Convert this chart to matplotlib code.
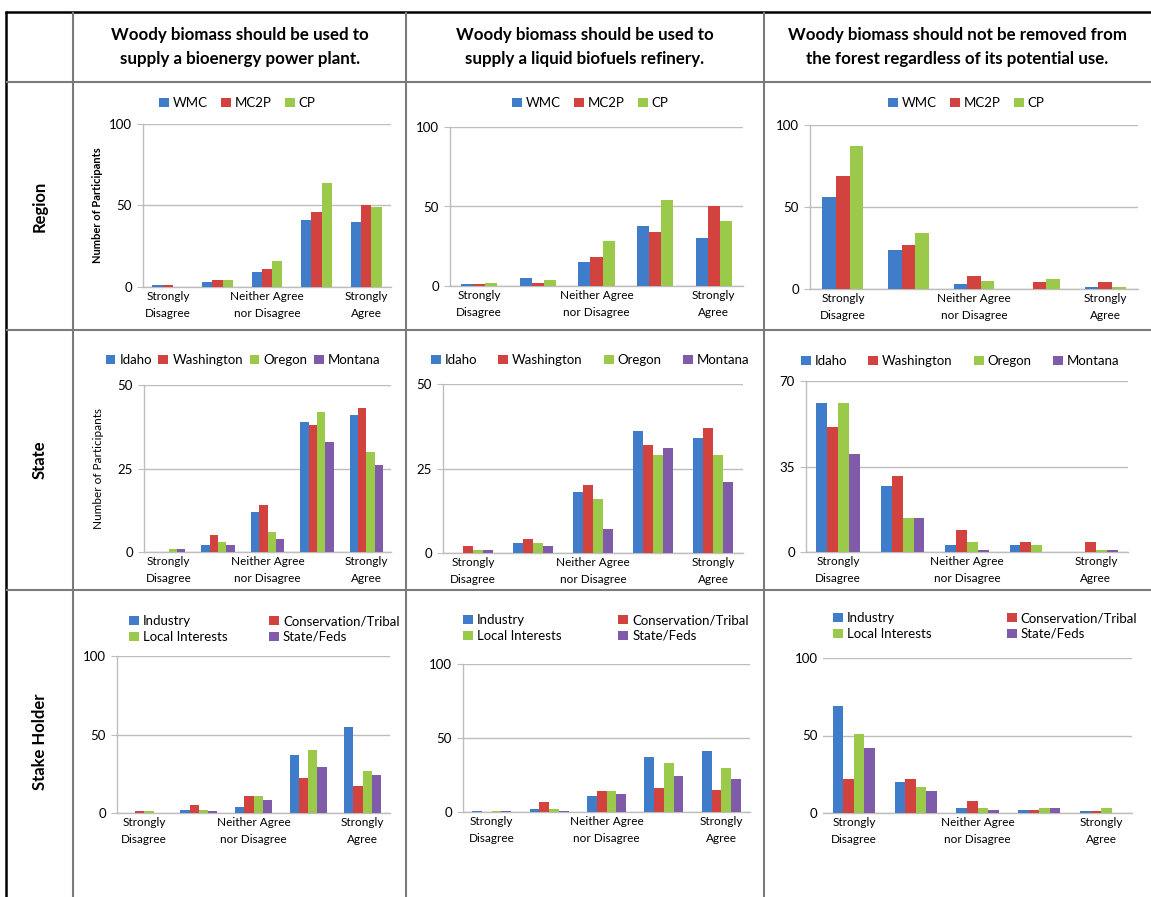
import matplotlib
matplotlib.use("Agg")
import matplotlib.pyplot as plt
from matplotlib.lines import Line2D
import numpy as np

plt.rcParams['font.family'] = ['Lato', 'DejaVu Sans']

W, H = 1151, 897

# ---- data -------------------------------------------------------------
categories = ["SD", "D", "N", "A", "SA"]
tick_positions = [0, 2, 4]
tick_labels = ["Strongly\nDisagree", "Neither Agree\nnor Disagree", "Strongly\nAgree"]

col_titles = [
    "Woody biomass should be used to\nsupply a bioenergy power plant.",
    "Woody biomass should be used to\nsupply a liquid biofuels refinery.",
    "Woody biomass should not be removed from\nthe forest regardless of its potential use.",
]
row_titles = ["Region", "State", "Stake Holder"]

region_names = ["WMC", "MC2P", "CP"]
region_power = [[1, 3, 9, 41, 40], [1, 4, 11, 46, 50], [0, 4, 16, 64, 49]]
region_fuels = [[1, 5, 15, 38, 30], [1, 2, 18, 34, 50], [2, 4, 28, 54, 41]]
region_keep = [[56, 24, 3, 0, 1], [69, 27, 8, 4, 4], [87, 34, 5, 6, 1]]

state_names = ["Idaho", "Washington", "Oregon", "Montana"]
state_power = [[0, 2, 12, 39, 41], [0, 5, 14, 38, 43], [1, 3, 6, 42, 30], [1, 2, 4, 33, 26]]
state_fuels = [[0, 3, 18, 36, 34], [2, 4, 20, 32, 37], [1, 3, 16, 29, 29], [1, 2, 7, 31, 21]]
state_keep = [[61, 27, 3, 3, 0], [51, 31, 9, 4, 4], [61, 14, 4, 3, 1], [40, 14, 1, 0, 1]]

stake_names = ["Industry", "Conservation/Tribal", "Local Interests", "State/Feds"]
stake_power = [[0, 2, 4, 37, 55], [1, 5, 11, 22, 17], [1, 2, 11, 40, 27], [0, 1, 8, 29, 24]]
stake_fuels = [[1, 2, 11, 37, 41], [0, 7, 14, 16, 15], [1, 2, 14, 33, 30], [1, 1, 12, 24, 22]]
stake_keep = [[69, 20, 3, 2, 1], [22, 22, 8, 2, 1], [51, 17, 3, 3, 3], [42, 14, 2, 3, 0]]

colors3 = ["#3F7DCB", "#D24340", "#9BC94A"]
colors4 = ["#3F7DCB", "#D24340", "#9BC94A", "#7F5BAA"]

GRID = "#BDBDBD"

fig = plt.figure(figsize=(W / 100, H / 100), dpi=100)


def fx(x):
    return x / W


def fy(y):
    return 1 - y / H


# ---- table frame ------------------------------------------------------
def hline(y, x0, x1, color, lw):
    fig.add_artist(Line2D([fx(x0), fx(x1)], [fy(y), fy(y)], color=color, lw=lw,
                          transform=fig.transFigure, solid_capstyle="butt"))


def vline(x, y0, y1, color, lw):
    fig.add_artist(Line2D([fx(x), fx(x)], [fy(y0), fy(y1)], color=color, lw=lw,
                          transform=fig.transFigure, solid_capstyle="butt"))


hline(12, 5, W, "black", 1.8)
vline(6, 11, H, "black", 1.8)
for y in (82, 330, 590):
    hline(y, 6, W, "#7A7A7A", 1.5)
for x in (73, 406, 764):
    vline(x, 12, H, "#7A7A7A", 1.5)

col_centers = [240, 585, 957]
for cx, title in zip(col_centers, col_titles):
    fig.text(fx(cx), fy(47), title, ha="center", va="center", fontsize=12.2,
             fontweight="bold", linespacing=1.6)

for cy, title in zip([206, 460, 742], row_titles):
    fig.text(fx(40), fy(cy), title, ha="center", va="center", fontsize=12,
             fontweight="bold", rotation=90)


# ---- panels -----------------------------------------------------------
def panel(box, series, names, colors, ymax, ystep, group, left_spine=True):
    left, right, top, bottom = box
    ax = fig.add_axes([fx(left), fy(bottom), fx(right - left), (bottom - top) / H])
    n = len(series)
    bw = group / n
    x = np.arange(len(categories))
    handles = []
    for i, (vals, c) in enumerate(zip(series, colors)):
        h = ax.bar(x - group / 2 + bw * (i + 0.5), vals, width=bw, color=c,
                   edgecolor="none", zorder=3, label=names[i])
        handles.append(h)
    ax.set_xlim(-0.5, len(categories) - 0.5)
    ax.set_ylim(0, ymax)
    ax.set_yticks(np.arange(0, ymax + 0.1, ystep))
    ax.yaxis.grid(True, color=GRID, lw=1.0, zorder=0)
    ax.set_axisbelow(True)
    for s in ("top", "right"):
        ax.spines[s].set_visible(False)
    ax.spines["bottom"].set_color(GRID)
    ax.spines["bottom"].set_linewidth(1.0)
    ax.spines["left"].set_color(GRID)
    ax.spines["left"].set_linewidth(1.0)
    ax.spines["left"].set_visible(left_spine)
    ax.set_xticks(tick_positions)
    ax.set_xticklabels(tick_labels, fontsize=8.5, linespacing=1.6)
    ax.tick_params(axis="x", length=0, pad=3)
    ax.tick_params(axis="y", length=4 if left_spine else 0, color=GRID,
                   labelsize=9.5, pad=4)
    return ax, handles


def legend_row(ax, handles, names, cx, cy, spacing):
    ax.legend(handles, names, loc="center", bbox_to_anchor=(fx(cx), fy(cy)),
              bbox_transform=fig.transFigure, ncol=len(names), frameon=False,
              fontsize=9.5, handlelength=0.75, handleheight=0.75, handletextpad=0.3,
              columnspacing=spacing, borderaxespad=0, borderpad=0)


def legend_grid(ax, handles, names, x0, cy, spacing):
    order = [0, 2, 1, 3]
    ax.legend([handles[i] for i in order], [names[i] for i in order],
              loc="center left", bbox_to_anchor=(fx(x0), fy(cy)),
              bbox_transform=fig.transFigure, ncol=2, frameon=False,
              fontsize=9.5, handlelength=0.75, handleheight=0.75, handletextpad=0.3,
              columnspacing=spacing, labelspacing=0.3, borderaxespad=0, borderpad=0)


# Region row
ax, hs = panel((143, 391, 124, 287), region_power, region_names, colors3, 100, 50, 0.62)
legend_row(ax, hs, region_names, 237, 103, 1.0)
ax.set_ylabel("Number of Participants", fontsize=8, fontweight="bold", labelpad=4)
ax, hs = panel((450, 743, 127, 286), region_fuels, region_names, colors3, 100, 50, 0.62)
legend_row(ax, hs, region_names, 590, 103, 1.0)
ax, hs = panel((810, 1138, 125, 289), region_keep, region_names, colors3, 100, 50, 0.62)
legend_row(ax, hs, region_names, 966, 103, 1.0)

# State row
ax, hs = panel((144, 391, 385, 552), state_power, state_names, colors4, 50, 25, 0.68)
legend_row(ax, hs, state_names, 243, 360, 0.5)
ax.set_ylabel("Number of Participants", fontsize=8.5, labelpad=10)
ax, hs = panel((443, 743, 384, 553), state_fuels, state_names, colors4, 50, 25, 0.68)
legend_row(ax, hs, state_names, 590, 360, 1.6)
ax, hs = panel((806, 1128, 381, 552), state_keep, state_names, colors4, 70, 35, 0.68)
legend_row(ax, hs, state_names, 960, 361, 1.6)

# Stake holder row
ax, hs = panel((117, 390, 656, 813), stake_power, stake_names, colors4, 100, 50, 0.68)
legend_grid(ax, hs, stake_names, 129, 629, 3.15)
ax, hs = panel((463, 750, 664, 812), stake_fuels, stake_names, colors4, 100, 50, 0.68)
legend_grid(ax, hs, stake_names, 463, 628, 4.3)
ax, hs = panel((823, 1132, 658, 813), stake_keep, stake_names, colors4, 100, 50, 0.68,
               left_spine=False)
legend_grid(ax, hs, stake_names, 833, 626, 5.7)

fig.savefig("out.png", dpi=100, facecolor="white")
